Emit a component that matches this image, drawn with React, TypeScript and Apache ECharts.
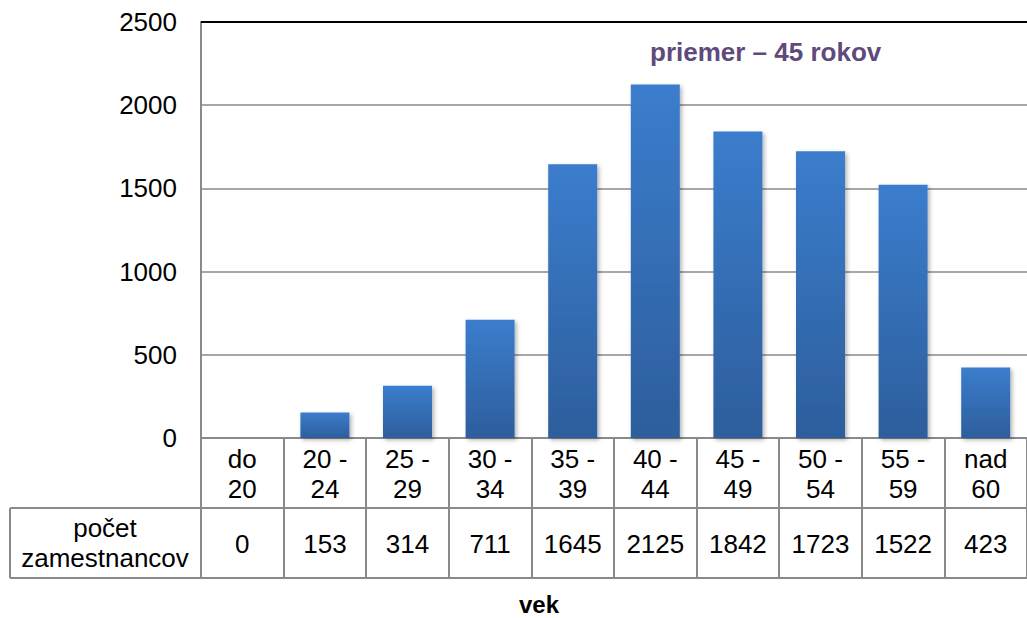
import React, { useEffect, useRef } from "react";
import * as echarts from "echarts";

const categories = ["do\n20", "20 -\n24", "25 -\n29", "30 -\n34", "35 -\n39", "40 -\n44", "45 -\n49", "50 -\n54", "55 -\n59", "nad\n60"];
const values = [0, 153, 314, 711, 1645, 2125, 1842, 1723, 1522, 423];
const yTicks = { min: 0, max: 2500, interval: 500 };
const rowHeader = "počet\nzamestnancov";
const axisTitle = "vek";
const note = "priemer – 45 rokov";

const FONT = "'Liberation Sans', Arial, sans-serif";
const FS = 26;

export default function App() {
  const ref = useRef<HTMLDivElement>(null);
  useEffect(() => {
    document.body.style.margin = "0";
    const chart = echarts.init(ref.current!, null, { renderer: "svg" });
    const gl = 201, gt = 22, gw = 838, gh = 416;
    const gb = gt + gh;
    const row = 70;
    const lineStyle = { stroke: "#8a8a8a", lineWidth: 2 };
    chart.setOption({
      animation: false,
      textStyle: { fontFamily: FONT },
      grid: { left: gl, top: gt, width: gw, height: gh },
      xAxis: [
        {
          type: "category",
          data: categories,
          position: "bottom",
          axisLine: { show: true, lineStyle: { color: "#8a8a8a", width: 2 } },
          axisTick: { show: true, length: row * 2, interval: 0, lineStyle: { color: "#8a8a8a", width: 2 } },
          axisLabel: { interval: 0, fontSize: FS, lineHeight: 30, margin: 6, color: "#000", fontFamily: FONT },
          splitLine: { show: false },
        },
        {
          type: "category",
          data: values.map(String),
          position: "bottom",
          offset: row,
          axisLine: { show: false },
          axisTick: { show: false },
          axisLabel: { interval: 0, fontSize: FS, margin: 23, color: "#000", fontFamily: FONT },
          splitLine: { show: false },
        },
      ],
      yAxis: {
        type: "value",
        min: yTicks.min,
        max: yTicks.max,
        interval: yTicks.interval,
        axisLine: { show: true, lineStyle: { color: "#8a8a8a", width: 2 } },
        axisTick: { show: false },
        splitLine: { show: true, lineStyle: { color: "#8a8a8a", width: 1.5 } },
        axisLabel: { fontSize: FS, margin: 24, color: "#000", fontFamily: FONT, formatter: (v: number) => String(v) },
      },
      series: [
        {
          type: "bar",
          xAxisIndex: 0,
          data: values,
          barWidth: 49,
          itemStyle: {
            color: new echarts.graphic.LinearGradient(0, 0, 0, 1, [
              { offset: 0, color: "#3b7dcd" },
              { offset: 1, color: "#2d5e9c" },
            ]),
            shadowBlur: 4,
            shadowColor: "rgba(0,0,0,0.3)",
            shadowOffsetX: 2,
            shadowOffsetY: 2,
          },
        },
      ],
      graphic: [
        { type: "line", shape: { x1: gl, y1: gt, x2: 1027, y2: gt }, style: { stroke: "#000", lineWidth: 2 }, z: 10 },
        { type: "line", shape: { x1: 10, y1: gb + row, x2: 1027, y2: gb + row }, style: lineStyle },
        { type: "line", shape: { x1: 10, y1: gb + row * 2, x2: 1027, y2: gb + row * 2 }, style: lineStyle },
        { type: "line", shape: { x1: 10, y1: gb + row, x2: 10, y2: gb + row * 2 }, style: lineStyle },
        {
          type: "text",
          x: 105,
          y: gb + row * 1.5,
          style: { text: rowHeader, fontSize: FS, lineHeight: 30, fill: "#000", align: "center", verticalAlign: "middle", fontFamily: FONT },
        },
        {
          type: "text",
          x: 539,
          y: 604,
          style: { text: axisTitle, fontSize: 24, fontWeight: "bold", fill: "#000", align: "center", verticalAlign: "middle", fontFamily: FONT },
        },
        {
          type: "text",
          x: 650,
          y: 52,
          style: { text: note, fontSize: FS, fontWeight: "bold", fill: "#604a7b", align: "left", verticalAlign: "middle", fontFamily: FONT },
        },
      ],
    });
    return () => chart.dispose();
  }, []);
  return <div ref={ref} style={{ width: 1027, height: 618 }} />;
}
